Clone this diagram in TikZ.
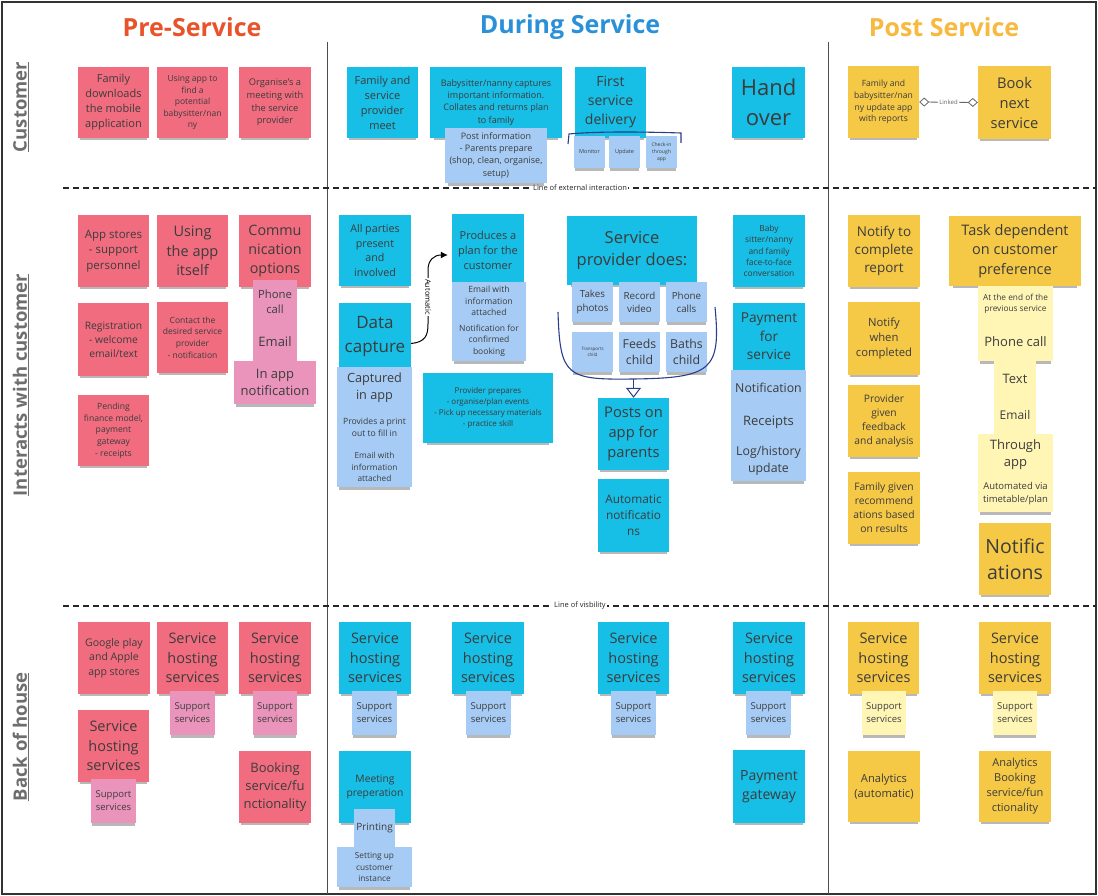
\documentclass[tikz,border=0pt]{standalone}
\usepackage{fontspec}
\setmainfont{Open Sans}
\usetikzlibrary{shadows,arrows.meta}
\definecolor{stRed}{HTML}{F16C7F}
\definecolor{stPink}{HTML}{EA94BB}
\definecolor{stCyan}{HTML}{17BEE5}
\definecolor{stLBlue}{HTML}{A6CCF5}
\definecolor{stYel}{HTML}{F5C846}
\definecolor{stLYel}{HTML}{FFF6B6}
\definecolor{stText}{HTML}{3C3C3C}
\definecolor{hRed}{HTML}{E8532B}
\definecolor{hBlue}{HTML}{2A91D8}
\definecolor{hYel}{HTML}{F7B93E}
\definecolor{rowGray}{HTML}{6E6E6E}
\definecolor{navy}{HTML}{2E3C8C}
\newcommand{\fsz}[1]{\fontsize{#1}{\dimexpr #1pt*136/100\relax}\selectfont}
\newcommand{\stk}[7][]{\node[note,#1,minimum width={(#5)-(#3)},minimum height={(#6)-(#4)}] (#2) at ({(#3+#5)/2},{(#4+#6)/2}) {#7};}
\tikzset{
  note/.style={rectangle, inner sep=1pt, align=center, text=stText,
    drop shadow={shadow xshift=0pt, shadow yshift=-4.5pt, shadow scale=0.94, opacity=0.28, fill=black}},
  rnote/.style={fill=stRed},
  pnote/.style={fill=stPink},
  cnote/.style={fill=stCyan},
  bnote/.style={fill=stLBlue},
  ynote/.style={fill=stYel},
  lynote/.style={fill=stLYel},
  header/.style={font={\fsz{25}\bfseries}},
  rowlab/.style={font={\fsz{18.5}\bfseries}, text=rowGray, rotate=90},
  sepline/.style={draw=black!70, line width=1pt},
  dashline/.style={draw=black!85, line width=1.4pt, dash pattern=on 6pt off 4pt},
  linelab/.style={fill=white, inner sep=1.5pt, font=\fsz{7.5}, text=black!85},
  autoarrow/.style={draw=black, line width=1pt, -{Latex[length=7pt,width=7pt]}},
  linkline/.style={draw=black!60, line width=0.8pt, {Diamond[open,length=10pt,width=9pt]}-{Diamond[open,length=10pt,width=9pt]}},
  bracketline/.style={draw=navy, line width=1.1pt},
  openarrow/.style={draw=navy, line width=1pt, -{Triangle[open,length=10pt,width=15pt]}},
}
\begin{document}
\begin{tikzpicture}[x=1pt,y=-1pt]
\useasboundingbox (0,0) rectangle (1098,896);
\fill[white] (0,0) rectangle (1098,896);
% frame and separators
\draw[draw=black!80, line width=1.5pt] (2,2) rectangle (1096,894);
\draw[sepline] (327,42) -- (327,894);
\draw[sepline] (828,42) -- (828,894);
\draw[dashline] (63,188) -- (1096,188);
\draw[dashline] (63,606) -- (1096,606);
\node[linelab] (lext) at (580,188) {Line of external interaction};
\node[linelab] (lvis) at (580,606) {Line of visbility};
% headers
\node[header, text=hRed] (hpre) at (192,27) {Pre-Service};
\node[header, text=hBlue] (hdur) at (570,27) {During Service};
\node[header, text=hYel] (hpost) at (944,27) {Post Service};
% row labels
\node[rowlab] (rcust) at (21,107) {\underline{Customer}};
\node[rowlab] (rint) at (21,385) {\underline{Interacts with customer}};
\node[rowlab] (rback) at (21,737) {\underline{Back of house}};
% ---------- Customer row ----------
\stk[rnote,font=\fsz{11}]{c1}{78}{67}{149}{138}{Family\\downloads\\the mobile\\application}
\stk[rnote,font=\fsz{8.5}]{c2}{157}{67}{228}{138}{Using app to\\find a\\potential\\babysitter/nan\\ny}
\stk[rnote,font=\fsz{9.3}]{c3}{239}{67}{311}{138}{Organise's a\\meeting with\\the service\\provider}
\stk[cnote,font=\fsz{11}]{d1}{347}{67}{418}{138}{Family and\\service\\provider\\meet}
\stk[cnote,font=\fsz{9}]{d2}{430}{67}{562}{138}{Babysitter/nanny captures\\important information.\\Collates and returns plan\\to family}
\stk[bnote,font=\fsz{9}]{d2a}{445}{128}{547}{183}{Post information\\- Parents prepare\\(shop, clean, organise,\\setup)}
\stk[cnote,font=\fsz{14}]{d3}{575}{67}{646}{138}{First\\service\\delivery}
\stk[bnote,font=\fsz{5.5}]{d3a}{574}{136}{605}{168}{Monitor}
\stk[bnote,font=\fsz{5.5}]{d3b}{609}{136}{640}{168}{Update}
\stk[bnote,font=\fsz{5}]{d3c}{646}{136}{677}{168}{Check-in\\through\\app}
\draw[bracketline] (568,144) -- (569,134) .. controls (600,131) and (650,132) .. (681,133) -- (681,143);
\stk[cnote,font=\fsz{22}]{d4}{732}{67}{805}{138}{Hand\\over}
\stk[ynote,font=\fsz{8.6}]{p1}{848}{66}{919}{138}{Family and\\babysitter/nan\\ny update app\\with reports}
\stk[ynote,font=\fsz{14.7}]{p2}{978}{66}{1051}{139}{Book\\next\\service}
\draw[linkline] (p1.east) -- node[fill=white, inner sep=1pt, font=\fsz{6}, text=black!60] (lnk) {Linked} (p2.west);
% ---------- Interacts row: pre ----------
\stk[rnote,font=\fsz{11.5}]{i1}{78}{215}{149}{287}{App stores\\- support\\personnel}
\stk[rnote,font=\fsz{14.5}]{i2}{157}{215}{228}{287}{Using\\the app\\itself}
\stk[rnote,font=\fsz{14.3}]{i3}{239}{215}{311}{287}{Commu\\nication\\options}
\stk[pnote,font=\fsz{11.3}]{i3a}{253}{280}{297}{323}{Phone\\call}
\stk[pnote,font=\fsz{13}]{i3b}{253}{323}{297}{361}{Email}
\stk[pnote,font=\fsz{13}]{i3c}{234}{361}{316}{404}{In app\\notification}
\stk[rnote,font=\fsz{10.3}]{i4}{78}{303}{149}{376}{Registration\\- welcome\\email/text}
\stk[rnote,font=\fsz{8.5}]{i5}{157}{302}{228}{373}{Contact the\\desired service\\provider\\- notification}
\stk[rnote,font=\fsz{8.6}]{i6}{78}{395}{149}{466}{Pending\\finance model,\\payment\\gateway\\- receipts}
% ---------- Interacts row: during ----------
\stk[cnote,font=\fsz{10.7}]{e1}{339}{215}{411}{286}{All parties\\present\\and\\involved}
\stk[cnote,font=\fsz{11}]{e2}{452}{214}{524}{286}{Produces a\\plan for the\\customer}
\stk[bnote,font=\fsz{8.6}]{e2a}{452}{282}{526}{320}{Email with\\information\\attached}
\stk[bnote,font=\fsz{8.5}]{e2b}{452}{320}{526}{361}{Notification for\\confirmed\\booking}
\stk[cnote,font=\fsz{17}]{e3}{339}{303}{411}{370}{Data\\capture}
\stk[bnote,font=\fsz{12.7}]{e3a}{337}{367}{412}{408}{Captured\\in app}
\stk[bnote,font=\fsz{8.6}]{e3b}{337}{408}{412}{447}{Provides a print\\out to fill in}
\stk[bnote,font=\fsz{8.3}]{e3c}{337}{447}{412}{487}{Email with\\information\\attached}
\stk[cnote,font=\fsz{8}]{e4}{423}{373}{553}{443}{Provider prepares\\- organise/plan events\\- Pick up necessary materials\\- practice skill}
\coordinate (as) at ([yshift=-7pt]e3.east);
\coordinate (ae) at ([xshift=-4pt,yshift=-5pt]e2.west);
\draw[autoarrow] (as) .. controls (425,342) and (428,336) .. (428,324) -- (428,270) .. controls (428,260) and (434,255) .. (ae);
\node[fill=white, inner sep=1pt, rotate=-90, font=\fsz{7.5}] (autolab) at (428,297) {Automatic};
\stk[cnote,font=\fsz{16.5}]{e5}{567}{216}{697}{285}{Service\\provider does:}
\stk[bnote,font=\fsz{9.8}]{e5a}{572}{282}{613}{322}{Takes\\photos}
\stk[bnote,font=\fsz{9.8}]{e5b}{619}{282}{660}{322}{Record\\video}
\stk[bnote,font=\fsz{9.8}]{e5c}{666}{282}{707}{322}{Phone\\calls}
\stk[bnote,font=\fsz{4.5}]{e5d}{572}{332}{613}{372}{Transports\\child}
\stk[bnote,font=\fsz{12.3}]{e5e}{619}{332}{660}{372}{Feeds\\child}
\stk[bnote,font=\fsz{12.3}]{e5f}{666}{332}{707}{372}{Baths\\child}
\draw[bracketline] (558,312) .. controls (560,376) and (566,380) .. (633,379) .. controls (712,378) and (721,370) .. (715,307);
\stk[cnote,font=\fsz{14.7}]{e6}{598}{398}{669}{470}{Posts on\\app for\\parents}
\coordinate (ubot) at (633.5,379);
\draw[openarrow] (ubot) -- (e6.north);
\stk[cnote,font=\fsz{11.8}]{e7}{598}{479}{669}{552}{Automatic\\notificatio\\ns}
\stk[cnote,font=\fsz{8.4}]{e8}{733}{215}{805}{287}{Baby\\sitter/nanny\\and family\\face-to-face\\conversation}
\stk[cnote,font=\fsz{13.7}]{e9}{733}{303}{805}{370}{Payment\\for\\service}
\stk[bnote,font=\fsz{12.3}]{e9a}{731}{370}{806}{405}{Notification}
\stk[bnote,font=\fsz{13}]{e9b}{731}{405}{806}{440}{Receipts}
\stk[bnote,font=\fsz{12.3}]{e9c}{731}{440}{806}{481}{Log/history\\update}
% ---------- Interacts row: post ----------
\stk[ynote,font=\fsz{13.5}]{q1}{848}{215}{920}{287}{Notify to\\complete\\report}
\stk[ynote,font=\fsz{11.3}]{q2}{848}{302}{920}{375}{Notify\\when\\completed}
\stk[ynote,font=\fsz{10.3}]{q3}{848}{385}{920}{457}{Provider\\given\\feedback\\and analysis}
\stk[ynote,font=\fsz{10.3}]{q4}{848}{472}{920}{544}{Family given\\recommend\\ations based\\on results}
\stk[ynote,font=\fsz{14.5}]{q5}{949}{216}{1081}{286}{Task dependent\\on customer\\preference}
\stk[lynote,font=\fsz{8.3}]{q5a}{978}{286}{1053}{322}{At the end of the\\previous service}
\stk[lynote,font=\fsz{13}]{q5b}{978}{322}{1053}{361}{Phone call}
\stk[lynote,font=\fsz{13}]{q5c}{994}{361}{1036}{396}{Text}
\stk[lynote,font=\fsz{12}]{q5d}{994}{396}{1036}{434}{Email}
\stk[lynote,font=\fsz{13}]{q5e}{978}{434}{1053}{475}{Through\\app}
\stk[lynote,font=\fsz{9.5}]{q5f}{978}{475}{1053}{512}{Automated via\\timetable/plan}
\stk[ynote,font=\fsz{19.5}]{q6}{979}{523}{1051}{595}{Notific\\ations}
% ---------- Back of house: pre ----------
\stk[rnote,font=\fsz{10.5}]{b1}{78}{622}{150}{694}{Google play\\and Apple\\app stores}
\stk[rnote,font=\fsz{14.5}]{b2}{157}{622}{228}{694}{Service\\hosting\\services}
\stk[pnote,font=\fsz{9.5}]{b2a}{170}{691}{215}{735}{Support\\services}
\stk[rnote,font=\fsz{14.5}]{b3}{239}{622}{311}{694}{Service\\hosting\\services}
\stk[pnote,font=\fsz{9.5}]{b3a}{253}{691}{297}{735}{Support\\services}
\stk[rnote,font=\fsz{14.5}]{b4}{78}{710}{149}{782}{Service\\hosting\\services}
\stk[pnote,font=\fsz{9.5}]{b4a}{91}{779}{136}{823}{Support\\services}
\stk[rnote,font=\fsz{13}]{b5}{239}{751}{311}{823}{Booking\\service/fu\\nctionality}
% ---------- Back of house: during ----------
\stk[cnote,font=\fsz{14.5}]{f1}{339}{622}{411}{694}{Service\\hosting\\services}
\stk[bnote,font=\fsz{9.5}]{f1a}{352}{691}{397}{735}{Support\\services}
\stk[cnote,font=\fsz{14.5}]{f2}{452}{622}{524}{694}{Service\\hosting\\services}
\stk[bnote,font=\fsz{9.5}]{f2a}{466}{691}{511}{735}{Support\\services}
\stk[cnote,font=\fsz{14.5}]{f3}{598}{622}{669}{694}{Service\\hosting\\services}
\stk[bnote,font=\fsz{9.5}]{f3a}{611}{691}{656}{735}{Support\\services}
\stk[cnote,font=\fsz{14.5}]{f4}{733}{622}{805}{694}{Service\\hosting\\services}
\stk[bnote,font=\fsz{9.5}]{f4a}{746}{691}{791}{735}{Support\\services}
\stk[cnote,font=\fsz{10.3}]{f5}{339}{751}{411}{823}{Meeting\\preperation}
\stk[bnote,font=\fsz{10}]{f5a}{354}{809}{395}{847}{Printing}
\stk[bnote,font=\fsz{8.3}]{f5b}{337}{847}{412}{887}{Setting up\\customer\\instance}
\stk[cnote,font=\fsz{14}]{f6}{733}{750}{805}{823}{Payment\\gateway}
% ---------- Back of house: post ----------
\stk[ynote,font=\fsz{14.5}]{g1}{848}{622}{919}{694}{Service\\hosting\\services}
\stk[lynote,font=\fsz{9.5}]{g1a}{862}{691}{906}{735}{Support\\services}
\stk[ynote,font=\fsz{14.5}]{g2}{979}{622}{1051}{694}{Service\\hosting\\services}
\stk[lynote,font=\fsz{9.5}]{g2a}{993}{691}{1037}{735}{Support\\services}
\stk[ynote,font=\fsz{11.2}]{g3}{848}{751}{920}{822}{Analytics\\(automatic)}
\stk[ynote,font=\fsz{11}]{g4}{979}{751}{1051}{822}{Analytics\\Booking\\service/fun\\ctionality}
\end{tikzpicture}
\end{document}
